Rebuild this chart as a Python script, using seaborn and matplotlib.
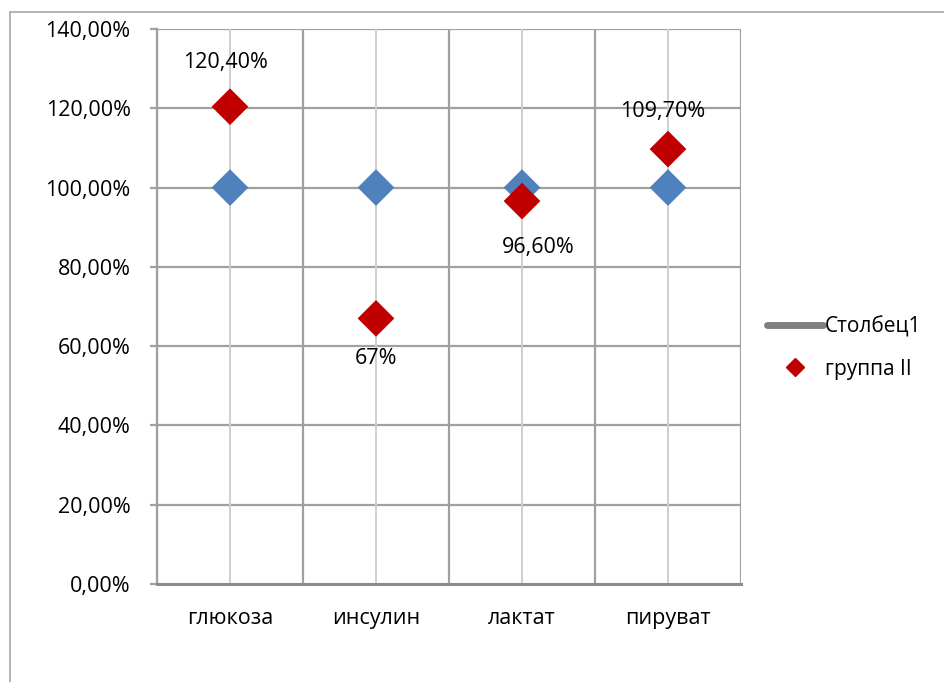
import matplotlib.pyplot as plt
import pandas as pd
import seaborn as sns
from matplotlib.lines import Line2D
from matplotlib.patches import Rectangle
from matplotlib.ticker import FixedLocator, FuncFormatter

categories = ["глюкоза", "инсулин", "лактат", "пируват"]
control_values = [1.0, 1.0, 1.0, 1.0]
group2_values = [1.204, 0.67, 0.966, 1.097]
group2_labels = ["120,40%", "67%", "96,60%", "109,70%"]
y_ticks = [0.0, 0.2, 0.4, 0.6, 0.8, 1.0, 1.2, 1.4]

# label placement relative to each red point (x in categories, y in data units)
label_shift = [(-0.03, 0.112), (0.0, -0.101), (0.11, -0.116), (-0.035, 0.096)]

sns.set_theme(style="white")
plt.rcParams["font.family"] = ["Open Sans", "DejaVu Sans"]
plt.rcParams["text.color"] = "black"
plt.rcParams["xtick.color"] = "black"
plt.rcParams["ytick.color"] = "black"

frame = pd.DataFrame(
    {
        "category": categories * 2,
        "x": list(range(len(categories))) * 2,
        "value": control_values + group2_values,
        "series": ["Столбец1"] * 4 + ["группа II"] * 4,
    }
)

fig = plt.figure(figsize=(9.44, 6.82), dpi=100)
fig.patches.append(
    Rectangle((10 / 944, -0.1), 1.2, (682 - 12) / 682 + 0.1, transform=fig.transFigure,
              fill=False, edgecolor="#a6a6a6", linewidth=1.2)
)
ax = fig.add_axes([157 / 944, 98 / 682, 584 / 944, 555 / 682])

grid_color = "#a0a0a0"
for y in y_ticks[1:]:
    ax.axhline(y, color=grid_color, linewidth=1.6, zorder=0)
for i in range(len(categories)):
    ax.axvline(i, color="#cfcfcf", linewidth=1.4, zorder=0)
for b in range(len(categories) + 1):
    ax.axvline(b - 0.5, color=grid_color, linewidth=1.6, zorder=0)

sns.scatterplot(
    data=frame, x="x", y="value", hue="series",
    palette={"Столбец1": "#4f81bd", "группа II": "#c00000"},
    marker="D", s=350, edgecolor="none", legend=False, ax=ax, zorder=3,
)

for x, v, lab, (dx, dy) in zip(range(len(categories)), group2_values, group2_labels, label_shift):
    ax.text(x + dx, v + dy, lab, ha="center", va="center", fontsize=15.5, color="black")

ax.set_xlim(-0.5, len(categories) - 0.5)
ax.set_ylim(0, 1.4)
ax.yaxis.set_major_locator(FixedLocator(y_ticks))
ax.yaxis.set_major_formatter(FuncFormatter(lambda v, _: f"{v * 100:.2f}%".replace(".", ",")))
ax.set_xticks(range(len(categories)))
ax.set_xticklabels(categories)
ax.xaxis.set_minor_locator(FixedLocator([b - 0.5 for b in range(len(categories) + 1)]))
ax.tick_params(axis="x", which="major", length=0, pad=17, labelsize=15.5)
ax.tick_params(axis="x", which="minor", length=5, width=1.6, color=grid_color, direction="out")
ax.tick_params(axis="y", length=5, width=1.6, color=grid_color, direction="out", left=True,
               labelsize=15.5, pad=14)
ax.set_xlabel("")
ax.set_ylabel("")

for side in ["top", "right"]:
    ax.spines[side].set_visible(False)
ax.spines["left"].set_color(grid_color)
ax.spines["left"].set_linewidth(1.6)
ax.spines["bottom"].set_color("#8c8c8c")
ax.spines["bottom"].set_linewidth(2.2)

handles = [
    Line2D([], [], color="#808080", linewidth=5, solid_capstyle="round"),
    Line2D([], [], color="#c00000", marker="D", linestyle="none", markersize=9),
]
fig.legend(handles, ["Столбец1", "группа II"], loc="center left",
           bbox_to_anchor=(748 / 944, 1 - 348 / 682), frameon=False, fontsize=15,
           handlelength=2.7, handletextpad=0.1, labelspacing=1.0)

fig.savefig("out.png", dpi=100)
